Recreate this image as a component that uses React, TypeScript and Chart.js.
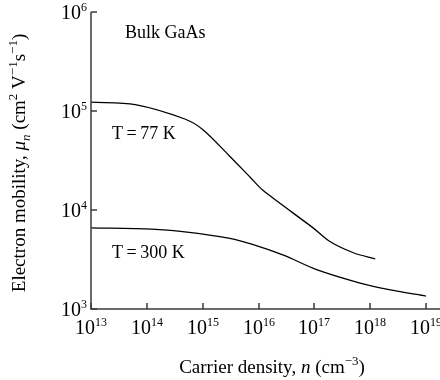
import React, { useEffect, useRef } from "react";
import { Chart, registerables } from "chart.js";

Chart.register(...registerables);

// Carrier density (cm^-3) and electron mobility (cm^2 V^-1 s^-1)
const density77K = [1e13, 6.2e13, 4.8e14, 1e15, 2.9e15, 7.1e15, 1.2e16, 9.5e16, 1.9e17, 5e17, 1.23e18];
const mobility77K = [1.23e5, 1.16e5, 8.3e4, 6.5e4, 3.6e4, 2.14e4, 1.58e4, 6.6e3, 4.8e3, 3.7e3, 3.2e3];

const density300K = [1e13, 1.23e14, 4.8e14, 2.9e15, 7.8e15, 2.8e16, 1.1e17, 6.6e17, 2.3e18, 1e19];
const mobility300K = [6.6e3, 6.4e3, 6.0e3, 5.2e3, 4.5e3, 3.5e3, 2.5e3, 1.83e3, 1.56e3, 1.35e3];

const xTickExponents = [13, 14, 15, 16, 17, 18, 19];
const yTickExponents = [3, 4, 5, 6];

const labelBulk = "Bulk GaAs";
const label77 = "T\u2009=\u200977 K";
const label300 = "T\u2009=\u2009300 K";

const FONT = '"Liberation Serif", "Times New Roman", serif';

type Seg = { t: string; italic?: boolean; sup?: boolean; sub?: boolean };

function segFont(s: Seg, size: number, supSize: number) {
  const sz = s.sup || s.sub ? supSize : size;
  return `${s.italic ? "italic " : ""}${sz}px ${FONT}`;
}

function drawRich(
  ctx: CanvasRenderingContext2D,
  segs: Seg[],
  x: number,
  y: number,
  size: number,
  supSize: number,
  align: "left" | "center" | "right"
) {
  let total = 0;
  const widths = segs.map((s) => {
    ctx.font = segFont(s, size, supSize);
    const w = ctx.measureText(s.t).width;
    total += w;
    return w;
  });
  let cx = align === "center" ? x - total / 2 : align === "right" ? x - total : x;
  ctx.textBaseline = "alphabetic";
  ctx.textAlign = "left";
  segs.forEach((s, i) => {
    ctx.font = segFont(s, size, supSize);
    const dy = s.sup ? -size * 0.4 : s.sub ? size * 0.25 : 0;
    ctx.fillText(s.t, cx, y + dy);
    cx += widths[i];
  });
}

const axesPlugin = {
  id: "customAxes",
  afterDraw(chart: any) {
    const ctx: CanvasRenderingContext2D = chart.ctx;
    const { left, top, bottom } = chart.chartArea;
    const xs = chart.scales.x;
    const ys = chart.scales.y;
    ctx.save();
    ctx.strokeStyle = "#3a3a3a";
    ctx.lineWidth = 1.5;
    ctx.beginPath();
    ctx.moveTo(left, top);
    ctx.lineTo(left, bottom);
    ctx.lineTo(chart.width, bottom);
    ctx.stroke();

    ctx.fillStyle = "#000";
    yTickExponents.forEach((e) => {
      const py = Math.round(ys.getPixelForValue(Math.pow(10, e)));
      ctx.beginPath();
      ctx.moveTo(left, py);
      ctx.lineTo(left + 6, py);
      ctx.stroke();
      drawRich(ctx, [{ t: "10" }, { t: String(e), sup: true }], left - 4, py + 7, 20, 12, "right");
    });
    xTickExponents.forEach((e) => {
      const px = Math.round(xs.getPixelForValue(Math.pow(10, e)));
      ctx.beginPath();
      ctx.moveTo(px, bottom);
      ctx.lineTo(px, bottom - 6);
      ctx.stroke();
      drawRich(ctx, [{ t: "10" }, { t: String(e), sup: true }], px, bottom + 25, 20, 12, "center");
    });

    // x title
    drawRich(
      ctx,
      [{ t: "Carrier density, " }, { t: "n", italic: true }, { t: " (cm" }, { t: "\u22123", sup: true }, { t: ")" }],
      272,
      373,
      19,
      13,
      "center"
    );

    // y title
    ctx.save();
    ctx.translate(25, 163);
    ctx.rotate(-Math.PI / 2);
    drawRich(
      ctx,
      [
        { t: "Electron mobility, " },
        { t: "\u03bc", italic: true },
        { t: "n", italic: true, sub: true },
        { t: " (cm" },
        { t: "2", sup: true },
        { t: " V" },
        { t: "\u22121", sup: true },
        { t: "s" },
        { t: "\u22121", sup: true },
        { t: ")" },
      ],
      0,
      0,
      19,
      13,
      "center"
    );
    ctx.restore();

    // annotations
    drawRich(ctx, [{ t: labelBulk }], 125, 38, 18, 12, "left");
    drawRich(ctx, [{ t: label77 }], 112, 139, 18, 12, "left");
    drawRich(ctx, [{ t: label300 }], 112, 258, 18, 12, "left");
    ctx.restore();
  },
};

export default function App() {
  const canvasRef = useRef<HTMLCanvasElement | null>(null);

  useEffect(() => {
    if (!canvasRef.current) return;
    const chart = new Chart(canvasRef.current, {
      type: "line",
      data: {
        datasets: [
          {
            label: "77 K",
            data: density77K.map((d, i) => ({ x: d, y: mobility77K[i] })),
            borderColor: "#000",
            borderWidth: 1.3,
            pointRadius: 0,
            fill: false,
            tension: 0.3,
          },
          {
            label: "300 K",
            data: density300K.map((d, i) => ({ x: d, y: mobility300K[i] })),
            borderColor: "#000",
            borderWidth: 1.3,
            pointRadius: 0,
            fill: false,
            tension: 0.3,
          },
        ],
      },
      options: {
        animation: false,
        responsive: false,
        maintainAspectRatio: false,
        layout: { padding: { left: 91, right: 14, top: 12, bottom: 71 } },
        scales: {
          x: { type: "logarithmic", min: 1e13, max: 1e19, display: false },
          y: { type: "logarithmic", min: 1e3, max: 1e6, display: false },
        },
        plugins: {
          legend: { display: false },
          tooltip: { enabled: false },
        },
      },
      plugins: [axesPlugin],
    } as any);
    return () => chart.destroy();
  }, []);

  return (
    <div style={{ position: "fixed", left: 0, top: 0, width: 440, height: 380, background: "#fff" }}>
      <canvas ref={canvasRef} width={440} height={380} style={{ display: "block" }} />
    </div>
  );
}
